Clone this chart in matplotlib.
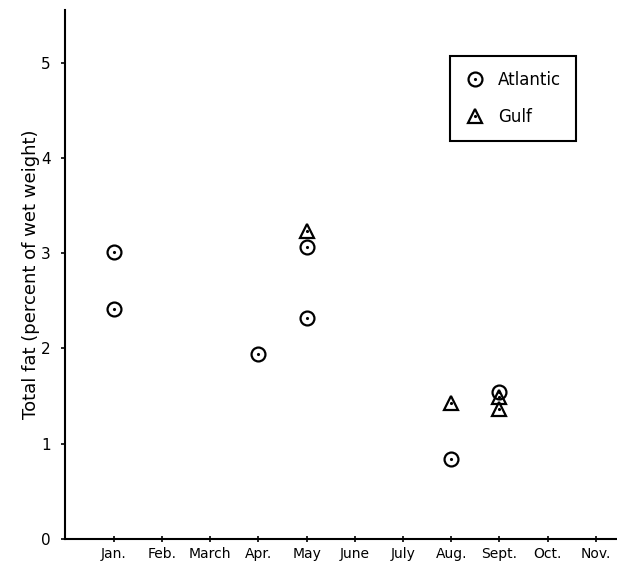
import matplotlib
matplotlib.use("Agg")
import matplotlib.pyplot as plt
from matplotlib.lines import Line2D

months = ["Jan.", "Feb.", "March", "Apr.", "May", "June", "July",
          "Aug.", "Sept.", "Oct.", "Nov."]

# Atlantic samples (month, total fat %)
atlantic_month = ["Jan.", "Jan.", "Apr.", "May", "May", "Aug.", "Sept."]
atlantic_fat = [3.01, 2.41, 1.94, 3.06, 2.32, 0.84, 1.54]

# Gulf samples
gulf_month = ["May", "Aug.", "Sept.", "Sept."]
gulf_fat = [3.23, 1.43, 1.49, 1.36]

ytick_vals = [0, 1, 2, 3, 4, 5]

plt.rcParams["font.family"] = "DejaVu Sans"

fig = plt.figure(figsize=(6.17, 5.65), dpi=100)
ax = fig.add_axes([0.105, 0.046, 0.895, 0.936])

ax_x = [months.index(m) + 1 for m in atlantic_month]
gx = [months.index(m) + 1 for m in gulf_month]

mk = dict(linestyle="none", markerfacecolor="none", markeredgecolor="black",
          markeredgewidth=1.6, color="black")
ax.plot(ax_x, atlantic_fat, marker="o", markersize=10, **mk)
ax.plot(ax_x, atlantic_fat, marker=".", markersize=2.5, linestyle="none", color="black")
ax.plot(gx, gulf_fat, marker="^", markersize=10.5, **mk)
ax.plot(gx, gulf_fat, marker=".", markersize=2.5, linestyle="none", color="black")

ax.set_xlim(-0.02, 11.44)
ax.set_ylim(0, 5.55)
ax.set_xticks(range(1, len(months) + 1))
ax.set_xticklabels(months, fontsize=10)
ax.set_yticks(ytick_vals)
ax.set_yticklabels([str(v) for v in ytick_vals], fontsize=11)
ax.tick_params(axis="x", direction="inout", length=5, width=1.2, pad=3)
ax.tick_params(axis="y", direction="out", length=3, width=1.2, pad=7)

for s in ["top", "right"]:
    ax.spines[s].set_visible(False)
for s in ["left", "bottom"]:
    ax.spines[s].set_linewidth(1.5)

ax.set_ylabel("Total fat (percent of wet weight)", fontsize=13)
ax.yaxis.set_label_coords(-0.045, 0.5)

h_atl = (Line2D([], [], marker="o", markersize=10, **mk),
         Line2D([], [], marker=".", markersize=2.5, linestyle="none", color="black"))
h_gulf = (Line2D([], [], marker="^", markersize=10.5, **mk),
          Line2D([], [], marker=".", markersize=2.5, linestyle="none", color="black"))
leg = ax.legend([h_atl, h_gulf], ["Atlantic", "Gulf"], loc="upper left",
                bbox_to_anchor=(0.697, 0.913), fontsize=12, frameon=True,
                fancybox=False, edgecolor="black", framealpha=1,
                handlelength=1.2, handletextpad=0.8, labelspacing=1.1,
                borderpad=0.9, borderaxespad=0)
leg.get_frame().set_linewidth(1.5)

fig.savefig("out.png", dpi=100)
